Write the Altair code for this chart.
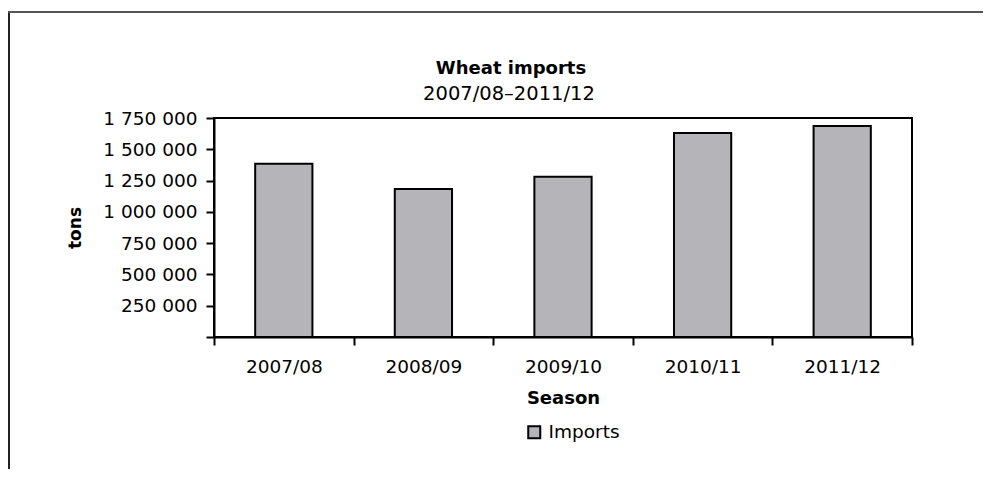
import altair as alt
import pandas as pd

seasons = ["2007/08", "2008/09", "2009/10", "2010/11", "2011/12"]
imports = [1385000, 1183000, 1280000, 1630000, 1686000]
series = ["Imports"] * len(seasons)
y_ticks = [0, 250000, 500000, 750000, 1000000, 1250000, 1500000, 1750000]
title_text = "Wheat imports"
subtitle_text = "2007/08–2011/12"

df = pd.DataFrame({"Season": seasons, "tons": imports, "series": series})

FONT = "DejaVu Sans"
W, H = 698, 219
FS = 18.5

bars = alt.Chart(df).mark_bar(
    stroke="black", strokeWidth=2, width={"band": 0.41}
).encode(
    x=alt.X("Season:N", sort=seasons,
            scale=alt.Scale(paddingInner=0, paddingOuter=0),
            axis=alt.Axis(title="Season", labelAngle=0, tickBand="extent",
                          tickSize=8, tickColor="black", tickWidth=2,
                          domainColor="black", domainWidth=2,
                          labelPadding=12, labelFontSize=FS, labelColor="black",
                          titleFontSize=18, titleFontWeight="bold", titlePadding=14,
                          titleColor="black")),
    y=alt.Y("tons:Q", scale=alt.Scale(domain=[0, 1750000], nice=False),
            axis=alt.Axis(title="tons", values=y_ticks, grid=False,
                          labelExpr="datum.value == 0 ? '' : replace(replace(format(datum.value, ','), ',', ' '), ',', ' ')",
                          tickSize=8, tickColor="black", tickWidth=2,
                          domainColor="black", domainWidth=2,
                          labelPadding=9, labelFontSize=FS, labelColor="black",
                          titleFontSize=17, titleFontWeight="bold", titlePadding=18,
                          titleColor="black")),
    color=alt.Color("series:N",
                    scale=alt.Scale(domain=["Imports"], range=["#b5b5b9"]),
                    legend=alt.Legend(title=None, orient="none", legendX=311, legendY=305,
                                      symbolType="square", symbolSize=144,
                                      symbolStrokeColor="black", symbolStrokeWidth=2,
                                      labelFontSize=FS, labelColor="black", labelOffset=5)),
)

one = pd.DataFrame({"k": [0]})
left_line = alt.Chart(one).mark_rule(color="#222222", strokeWidth=2).encode(
    x=alt.value(-205), y=alt.value(-106), y2=alt.value(365))
top_line = alt.Chart(one).mark_rule(color="#555555", strokeWidth=2).encode(
    x=alt.value(-206), x2=alt.value(800), y=alt.value(-106))
title_mark = alt.Chart(one).mark_text(
    fontSize=18, fontWeight="bold", color="black", align="center", baseline="middle"
).encode(x=alt.value(297), y=alt.value(-49), text=alt.value(title_text))
subtitle_mark = alt.Chart(one).mark_text(
    fontSize=19.5, color="black", align="center", baseline="middle"
).encode(x=alt.value(295), y=alt.value(-24), text=alt.value(subtitle_text))

chart = alt.layer(bars, left_line, top_line, title_mark, subtitle_mark).properties(
    width=W, height=H,
    autosize=alt.AutoSizeParams(type="none"),
    padding={"left": 206, "top": 110, "right": 71, "bottom": 132},
).configure(font=FONT).configure_view(stroke="black", strokeWidth=2)

chart.save("out.html", embed_options={"renderer": "svg", "actions": False})
